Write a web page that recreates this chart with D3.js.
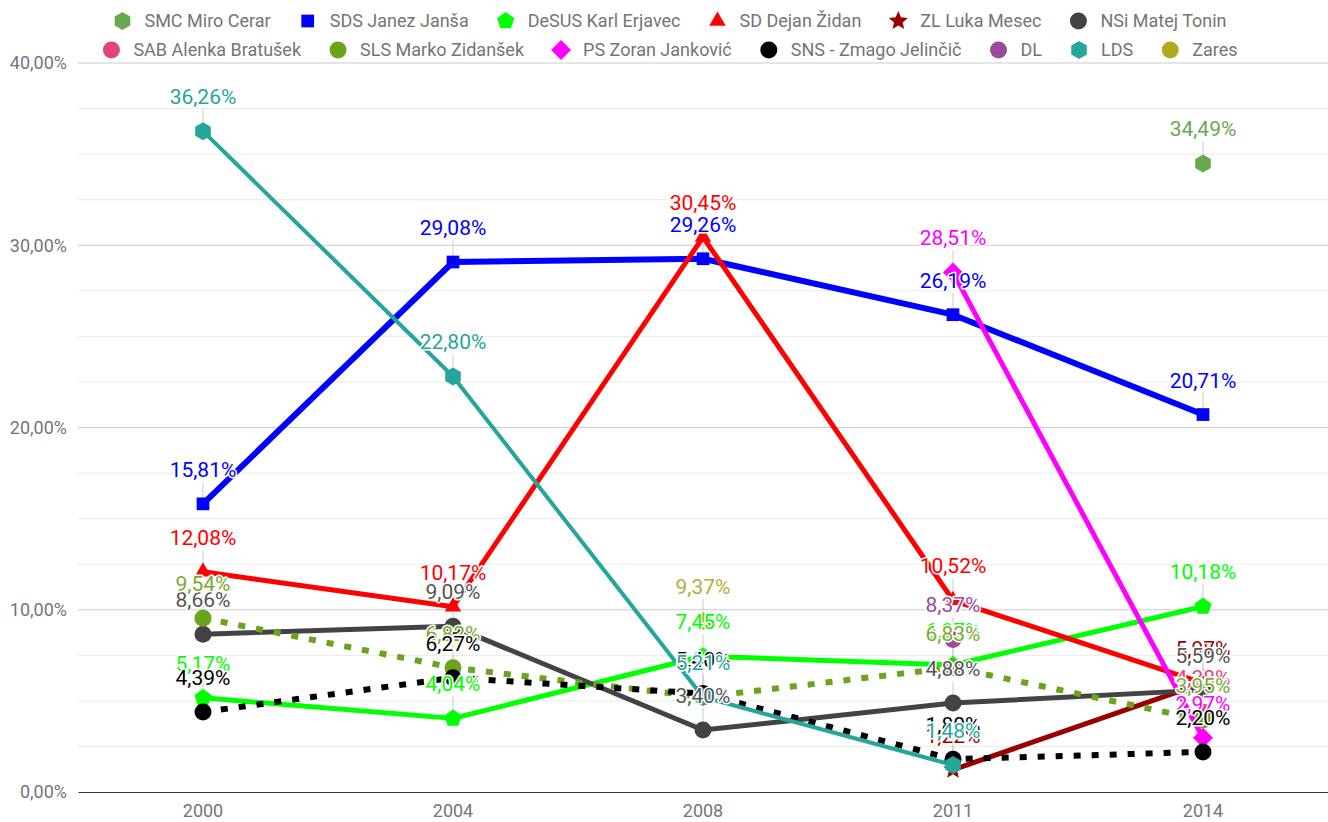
<!DOCTYPE html>
<html>
<head>
<meta charset="utf-8">
<script src="https://cdn.jsdelivr.net/npm/d3@7"></script>
<style>
  body { margin: 0; background: #fff; }
  text { font-family: Roboto, "Noto Sans", sans-serif; }
</style>
</head>
<body>
<svg id="chart"></svg>
<script>
// election results by year
const years = ["2000", "2004", "2008", "2011", "2014"]
const parties = ["SMC Miro Cerar", "SDS Janez Janša", "DeSUS Karl Erjavec", "SD Dejan Židan",
  "ZL Luka Mesec", "NSi Matej Tonin", "SAB Alenka Bratušek", "SLS Marko Zidanšek",
  "PS Zoran Janković", "SNS - Zmago Jelinčič", "DL", "LDS", "Zares"]

const smc = [null, null, null, null, 34.49]
const sds = [15.81, 29.08, 29.26, 26.19, 20.71]
const desus = [5.17, 4.04, 7.45, 6.97, 10.18]
const sd = [12.08, 10.17, 30.45, 10.52, 5.98]
const zl = [null, null, null, 1.22, 5.97]
const nsi = [8.66, 9.09, 3.40, 4.88, 5.59]
const sab = [null, null, null, null, 4.38]
const sls = [9.54, 6.82, 5.21, 6.83, 3.95]
const ps = [null, null, null, 28.51, 2.97]
const sns = [4.39, 6.27, 5.40, 1.80, 2.20]
const dl = [null, null, null, 8.37, null]
const lds = [36.26, 22.80, 5.21, 1.48, null]
const zares = [null, null, 9.37, null, null]

const yTicks = [0, 10, 20, 30, 40]
const yMinor = [2.5, 5, 7.5, 12.5, 15, 17.5, 22.5, 25, 27.5, 32.5, 35, 37.5]

const values = [smc, sds, desus, sd, zl, nsi, sab, sls, ps, sns, dl, lds, zares]

// look of each series
const styles = [
  { color: "#6aa84f", label: "#6aa84f", shape: "hexagon", width: 5 },
  { color: "#0000ff", label: "#0000ff", shape: "square", width: 6 },
  { color: "#00ff00", label: "#00ff00", shape: "pentagon", width: 5 },
  { color: "#ff0000", label: "#ff0000", shape: "triangle", width: 5 },
  { color: "#990000", label: "#990000", shape: "star", width: 5 },
  { color: "#434343", label: "#555555", shape: "circle", width: 5 },
  { color: "#e0457b", label: "#e0457b", shape: "circle", width: 5 },
  { color: "#6aa31c", label: "#7aab2e", shape: "circle", width: 6, dash: "7,11" },
  { color: "#ff00ff", label: "#ff00ff", shape: "diamond", width: 5 },
  { color: "#000000", label: "#000000", shape: "circle", width: 6, dash: "7,11" },
  { color: "#9b4a9c", label: "#9b4a9c", shape: "circle", width: 5 },
  { color: "#26a69a", label: "#26a69a", shape: "hexagon", width: 4 },
  { color: "#b0aa1e", label: "#b5ae35", shape: "circle", width: 5 }
]

const series = parties.map((name, i) => ({
  name: name,
  style: styles[i],
  points: years.map((yr, j) => ({ year: yr, value: values[i][j] }))
}))

const width = 1328
const height = 822
const margin = { top: 63, right: 0, bottom: 30, left: 78 }

const svg = d3.select("#chart")
  .attr("width", width)
  .attr("height", height)

const x = d3.scaleBand()
  .domain(years)
  .range([margin.left, width - margin.right])
  .padding(0)

const y = d3.scaleLinear()
  .domain([0, 40])
  .range([height - margin.bottom, margin.top])

const cx = d => x(d) + x.bandwidth() / 2

const sl = d3.formatLocale({ decimal: ",", thousands: ".", grouping: [3], currency: ["", "€"] })
const pct = v => sl.format(".2f")(v) + "%"

// minor and major gridlines
svg.append("g").selectAll("line")
  .data(yMinor)
  .enter()
  .append("line")
  .attr("x1", margin.left)
  .attr("x2", width - margin.right)
  .attr("y1", d => y(d))
  .attr("y2", d => y(d))
  .attr("stroke", "#ebebeb")

svg.append("g").selectAll("line")
  .data(yTicks.filter(d => d > 0))
  .enter()
  .append("line")
  .attr("x1", margin.left)
  .attr("x2", width - margin.right)
  .attr("y1", d => y(d))
  .attr("y2", d => y(d))
  .attr("stroke", "#cccccc")

// y axis labels
const yAxis = svg.append("g")
  .attr("transform", `translate(${margin.left},0)`)
  .call(d3.axisLeft(y).tickValues(yTicks).tickFormat(d => pct(d)).tickSize(0).tickPadding(11))
yAxis.select(".domain").remove()
yAxis.selectAll("text")
  .attr("fill", "#757575")
  .attr("font-size", 18)
  .attr("font-family", "Roboto, sans-serif")

// x axis
const xAxis = svg.append("g")
  .attr("transform", `translate(0,${y(0)})`)
  .call(d3.axisBottom(x).tickSize(0).tickPadding(12))
xAxis.select(".domain").attr("stroke", "#333333")
xAxis.selectAll("text")
  .attr("fill", "#757575")
  .attr("font-size", 18)
  .attr("font-family", "Roboto, sans-serif")

// marker shapes
function polygon(n, r, rot) {
  const pts = d3.range(n).map(k => {
    const a = rot + k * 2 * Math.PI / n
    return [r * Math.cos(a), r * Math.sin(a)]
  })
  return "M" + pts.map(p => p.join(",")).join("L") + "Z"
}
function star(ro, ri) {
  const pts = d3.range(10).map(k => {
    const a = -Math.PI / 2 + k * Math.PI / 5
    const r = k % 2 ? ri : ro
    return [r * Math.cos(a), r * Math.sin(a)]
  })
  return "M" + pts.map(p => p.join(",")).join("L") + "Z"
}
function shapePath(shape) {
  if (shape === "circle") return d3.symbol(d3.symbolCircle, Math.PI * 8.5 * 8.5)()
  if (shape === "square") return polygon(4, 9, Math.PI / 4)
  if (shape === "pentagon") return polygon(5, 9, -Math.PI / 2)
  if (shape === "hexagon") return polygon(6, 9, -Math.PI / 2)
  if (shape === "triangle") return polygon(3, 9.5, -Math.PI / 2)
  if (shape === "diamond") return polygon(4, 10, -Math.PI / 2)
  if (shape === "star") return star(10, 4.5)
}

// leader lines from label to point
const all = series.flatMap(s => s.points.filter(p => p.value !== null).map(p => ({ s: s, p: p })))

svg.append("g").selectAll("line")
  .data(all)
  .enter()
  .append("line")
  .attr("x1", d => cx(d.p.year))
  .attr("x2", d => cx(d.p.year))
  .attr("y1", d => y(d.p.value) - 22)
  .attr("y2", d => y(d.p.value))
  .attr("stroke", "#cccccc")

// lines
const line = d3.line()
  .defined(d => d.value !== null)
  .x(d => cx(d.year))
  .y(d => y(d.value))

svg.append("g").selectAll("path")
  .data(series)
  .enter()
  .append("path")
  .attr("d", d => line(d.points))
  .attr("fill", "none")
  .attr("stroke", d => d.style.color)
  .attr("stroke-width", d => d.style.width)
  .attr("stroke-linejoin", "round")
  .attr("stroke-dasharray", d => d.style.dash || null)

// markers
svg.append("g").selectAll("path")
  .data(all)
  .enter()
  .append("path")
  .attr("d", d => shapePath(d.s.style.shape))
  .attr("transform", d => `translate(${cx(d.p.year)},${y(d.p.value)})`)
  .attr("fill", d => d.s.style.color)

// value labels with a white aura
svg.append("g").selectAll("text")
  .data(all)
  .enter()
  .append("text")
  .attr("x", d => cx(d.p.year))
  .attr("y", d => y(d.p.value) - 27)
  .attr("text-anchor", "middle")
  .attr("font-size", 21)
  .attr("fill", d => d.s.style.label)
  .attr("stroke", "#ffffff")
  .attr("stroke-width", 3)
  .attr("stroke-linejoin", "round")
  .attr("paint-order", "stroke")
  .text(d => pct(d.p.value))

// legend, two centered rows
const rows = [series.slice(0, 6), series.slice(6)]
const rowY = [21, 50]
const gap = 37
rows.forEach((row, r) => {
  const g = svg.append("g")
  let pos = 0
  row.forEach(s => {
    const item = g.append("g")
    item.append("path")
      .attr("d", shapePath(s.style.shape))
      .attr("transform", `translate(${pos},0)`)
      .attr("fill", s.style.color)
    const t = item.append("text")
      .attr("x", pos + 22)
      .attr("y", 6)
      .attr("font-size", 18)
      .attr("fill", "#757575")
      .text(s.name)
    pos += 22 + t.node().getComputedTextLength() + gap
  })
  const total = pos - gap + 9
  g.attr("transform", `translate(${670 - total / 2 + 9},${rowY[r]})`)
})
</script>
</body>
</html>
